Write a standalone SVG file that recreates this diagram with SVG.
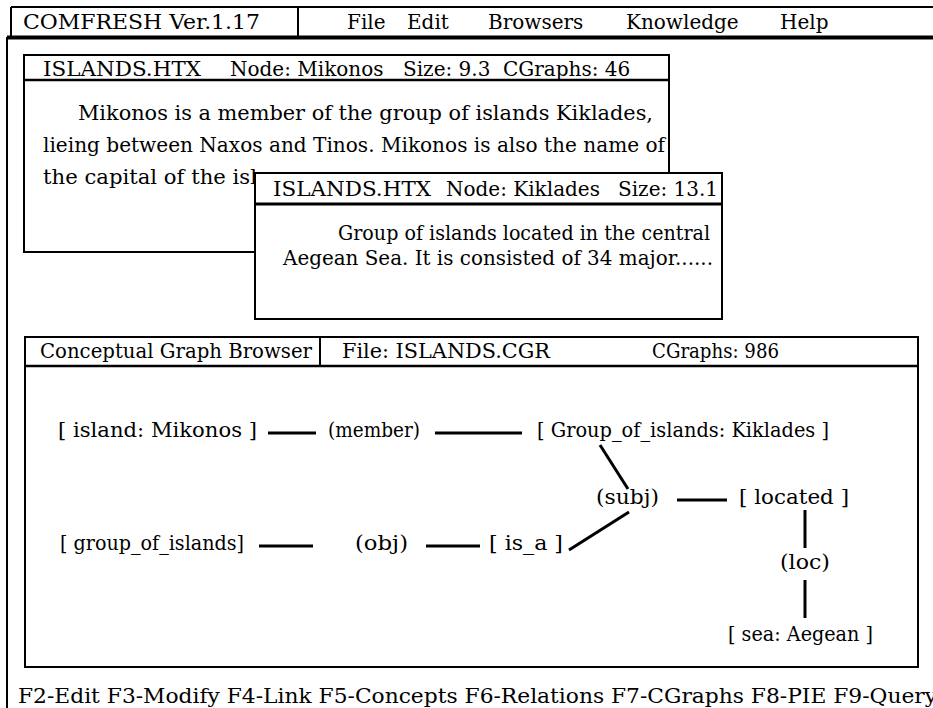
<svg xmlns="http://www.w3.org/2000/svg" width="933" height="708" viewBox="0 0 933 708">
<style>
text{font-family:"DejaVu Serif","Liberation Serif",serif;font-size:20px;fill:#000}
.frame{fill:none;stroke:#000;stroke-width:2}
.win{fill:#fff;stroke:#000;stroke-width:2}
.sep{stroke:#000;stroke-width:2.5}
.conn line{stroke:#000;stroke-width:3;stroke-linecap:butt}
</style>
<rect width="933" height="708" fill="#fff"/>
<g id="menubar">
<line class="frame" x1="11" y1="7" x2="933" y2="7"/>
<line class="frame" x1="11" y1="7" x2="11" y2="37"/>
<line class="frame" x1="298" y1="7" x2="298" y2="37"/>
<line x1="7" y1="37.5" x2="933" y2="37.5" stroke="#000" stroke-width="4"/>
<line class="frame" x1="7" y1="37" x2="7" y2="708"/>
<text x="23" y="29" textLength="237" lengthAdjust="spacingAndGlyphs">COMFRESH Ver.1.17</text>
<text y="29"><tspan x="347">File</tspan><tspan x="407">Edit</tspan><tspan x="488">Browsers</tspan><tspan x="626">Knowledge</tspan><tspan x="780">Help</tspan></text>
</g>
<g id="win-mikonos">
<rect class="win" x="24" y="55" width="645" height="197"/>
<line class="sep" x1="24" y1="80" x2="669" y2="80"/>
<text y="76"><tspan x="43" textLength="158" lengthAdjust="spacingAndGlyphs">ISLANDS.HTX</tspan><tspan x="230">Node: Mikonos</tspan><tspan x="403">Size: 9.3</tspan><tspan x="503">CGraphs: 46</tspan></text>
<text x="78" y="120" textLength="575" lengthAdjust="spacingAndGlyphs">Mikonos is a member of the group of islands Kiklades,</text>
<text x="43" y="152" textLength="622" lengthAdjust="spacingAndGlyphs">lieing between Naxos and Tinos. Mikonos is also the name of</text>
<text x="43" y="184" textLength="214" lengthAdjust="spacingAndGlyphs">the capital of the isl</text>
</g>
<g id="win-kiklades">
<rect class="win" x="255" y="173" width="467" height="146"/>
<line x1="255" y1="204" x2="722" y2="204" stroke="#000" stroke-width="3"/>
<text y="196"><tspan x="273" textLength="158" lengthAdjust="spacingAndGlyphs">ISLANDS.HTX</tspan><tspan x="446">Node: Kiklades</tspan><tspan x="618">Size: 13.1</tspan></text>
<text x="338" y="240" textLength="372" lengthAdjust="spacingAndGlyphs">Group of islands located in the central</text>
<text x="283" y="265" textLength="430" lengthAdjust="spacingAndGlyphs">Aegean Sea. It is consisted of 34 major......</text>
</g>
<g id="win-cgbrowser">
<rect class="win" x="25" y="337" width="893" height="330"/>
<line class="sep" x1="25" y1="366" x2="918" y2="366"/>
<line class="frame" x1="320" y1="337" x2="320" y2="366"/>
<text y="358"><tspan x="40" textLength="272" lengthAdjust="spacingAndGlyphs">Conceptual Graph Browser</tspan><tspan x="342" textLength="208" lengthAdjust="spacingAndGlyphs">File: ISLANDS.CGR</tspan><tspan x="652" textLength="127" lengthAdjust="spacingAndGlyphs">CGraphs: 986</tspan></text>
</g>
<g id="connectors" class="conn">
<line x1="268" y1="433" x2="316" y2="433"/>
<line x1="435" y1="433" x2="522" y2="433"/>
<line x1="600" y1="445" x2="628" y2="489"/>
<line x1="677" y1="500" x2="727" y2="500"/>
<line x1="805" y1="510" x2="805" y2="548"/>
<line x1="805" y1="580" x2="805" y2="618"/>
<line x1="569" y1="550" x2="629" y2="512"/>
<line x1="259" y1="546" x2="313" y2="546"/>
<line x1="426" y1="546" x2="480" y2="546"/>
</g>
<g id="node-island-mikonos"><text x="58" y="437" textLength="199" lengthAdjust="spacingAndGlyphs">[ island: Mikonos ]</text></g>
<g id="rel-member"><text x="328" y="437" textLength="92" lengthAdjust="spacingAndGlyphs">(member)</text></g>
<g id="node-group-kiklades"><text x="537" y="437" textLength="292" lengthAdjust="spacingAndGlyphs">[ Group_of_islands: Kiklades ]</text></g>
<g id="rel-subj"><text x="596" y="504" textLength="63" lengthAdjust="spacingAndGlyphs">(subj)</text></g>
<g id="node-located"><text x="739" y="504" textLength="110" lengthAdjust="spacingAndGlyphs">[ located ]</text></g>
<g id="node-group-of-islands"><text x="60" y="550" textLength="184" lengthAdjust="spacingAndGlyphs">[ group_of_islands]</text></g>
<g id="rel-obj"><text x="355" y="550" textLength="53" lengthAdjust="spacingAndGlyphs">(obj)</text></g>
<g id="node-is-a"><text x="489" y="550" textLength="74" lengthAdjust="spacingAndGlyphs">[ is_a ]</text></g>
<g id="rel-loc"><text x="780" y="569" textLength="50" lengthAdjust="spacingAndGlyphs">(loc)</text></g>
<g id="node-sea-aegean"><text x="728" y="641" textLength="145" lengthAdjust="spacingAndGlyphs">[ sea: Aegean ]</text></g>
<g id="fkeys"><text x="18" y="703" textLength="919" lengthAdjust="spacingAndGlyphs">F2-Edit F3-Modify F4-Link F5-Concepts F6-Relations F7-CGraphs F8-PIE F9-Query</text></g>
</svg>
